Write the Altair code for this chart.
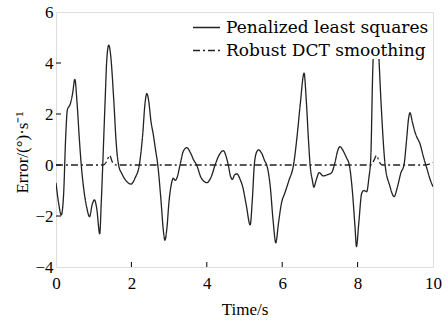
import altair as alt
import pandas as pd

# Penalized least squares (solid)
pls_t = [0.00, 0.07, 0.14, 0.20, 0.26, 0.30, 0.38, 0.44, 0.50, 0.56, 0.62, 0.67, 0.75, 0.82, 0.89,
         0.96, 1.02, 1.08, 1.16, 1.20, 1.24, 1.30, 1.35, 1.40, 1.45, 1.53, 1.60, 1.66, 1.75, 1.85,
         1.99, 2.10, 2.21, 2.30, 2.36, 2.41, 2.46, 2.52, 2.58, 2.64, 2.70, 2.78, 2.85, 2.89, 2.94,
         3.00, 3.06, 3.11, 3.16, 3.21, 3.29, 3.38, 3.47, 3.56, 3.65, 3.73, 3.85, 4.00, 4.12, 4.22,
         4.33, 4.44, 4.52, 4.57, 4.63, 4.68, 4.74, 4.80, 4.88, 4.96, 5.05, 5.15, 5.21, 5.26, 5.32,
         5.37, 5.46, 5.54, 5.59, 5.68, 5.76, 5.83, 5.90, 5.98, 6.07, 6.18, 6.30, 6.40, 6.48, 6.58,
         6.64, 6.70, 6.74, 6.80, 6.84, 6.90, 6.98, 7.09, 7.20, 7.31, 7.40, 7.47, 7.53, 7.60, 7.70,
         7.78, 7.86, 7.93, 7.97, 8.03, 8.11, 8.17, 8.24, 8.30, 8.35, 8.40, 8.45, 8.50, 8.55, 8.62,
         8.73, 8.85, 8.97, 9.05, 9.15, 9.23, 9.30, 9.35, 9.39, 9.45, 9.52, 9.57, 9.65, 9.75, 9.85,
         9.92, 10.00]
pls_v = [-0.70, -1.50, -1.96, -1.20, 1.20, 2.15, 2.40, 2.80, 3.36, 2.40, 1.00, 0.00, -1.10, -1.70, -2.03,
         -1.55, -1.37, -1.70, -2.70, -1.50, 0.00, 2.40, 4.20, 4.70, 4.30, 2.60, 0.80, 0.00, -0.35, -0.60,
         -0.75, -0.50, 0.00, 1.20, 2.40, 2.80, 2.50, 1.70, 1.20, 0.60, 0.00, -1.30, -2.60, -2.95, -2.50,
         -1.40, -0.75, -0.52, -0.60, -0.50, 0.00, 0.55, 0.68, 0.50, 0.20, 0.00, -0.50, -0.69, -0.45, 0.00,
         0.40, 0.56, 0.30, 0.00, -0.45, -0.56, -0.38, -0.35, -0.55, -0.90, -1.60, -2.35, -1.30, 0.00, 0.50,
         0.59, 0.45, 0.15, 0.00, -0.80, -2.20, -3.05, -2.30, -1.50, -1.10, -0.60, 0.00, 1.20, 2.40, 3.60,
         2.50, 0.90, 0.00, -0.60, -0.87, -0.60, -0.30, -0.43, -0.38, -0.30, 0.10, 0.55, 0.72, 0.60, 0.30,
         0.00, -1.00, -2.40, -3.20, -2.30, -1.10, -1.00, -1.05, -0.50, 0.30, 3.60, 5.30, 5.50, 4.60, 2.50,
         0.00, -0.80, -1.24, -0.90, -0.30, 0.00, 1.00, 1.80, 2.05, 1.70, 1.30, 1.10, 0.85, 0.30, -0.20,
         -0.55, -0.85]

# Robust DCT smoothing (dash-dot)
dct_t = [0.00, 1.25, 1.35, 1.42, 1.50, 1.60, 8.35, 8.44, 8.50, 8.58, 8.66, 9.80, 10.00]
dct_v = [0.00, 0.00, 0.15, 0.38, 0.10, 0.00, 0.00, 0.20, 0.38, 0.10, 0.00, 0.00, 0.10]

series_names = ["Penalized least squares", "Robust DCT smoothing"]
x_ticks = [0, 2, 4, 6, 8, 10]
y_ticks = [-4, -2, 0, 2, 4, 6]
x_inner_ticks = [2, 4, 6, 8]
y_inner_ticks = [-2, 0, 2, 4]

rows = []
for t, v in zip(pls_t, pls_v):
    rows.append({"t": t, "v": v, "series": series_names[0]})
for t, v in zip(dct_t, dct_v):
    rows.append({"t": t, "v": v, "series": series_names[1]})
df = pd.DataFrame(rows)

FONT = "Liberation Serif"
LEGEND_FONT = "DejaVu Serif"
xscale = alt.Scale(domain=[0, 10], nice=False, zero=False)
yscale = alt.Scale(domain=[-4, 6], nice=False, zero=False)

lines = alt.Chart(df).mark_line(color="#222222", strokeWidth=1.3, interpolate="monotone", clip=True).encode(
    x=alt.X("t:Q", scale=xscale,
            axis=alt.Axis(values=x_ticks, title="Time/s", domain=False, ticks=False, grid=False,
                          labelFont=FONT, labelFontSize=17, labelColor="black", labelPadding=8,
                          titleFont=FONT, titleFontSize=17, titleFontWeight="normal", titleColor="black",
                          titlePadding=10, labelFlush=False)),
    y=alt.Y("v:Q", scale=yscale,
            axis=alt.Axis(values=y_ticks, title="Error/(°)·s⁻¹", domain=False, ticks=False, grid=False,
                          labelFont=FONT, labelFontSize=17, labelColor="black", labelPadding=3,
                          titleFont=FONT, titleFontSize=17, titleFontWeight="normal", titleColor="black",
                          titleX=-34, titleY=140, titleAlign="center", titleBaseline="middle",
                          labelFlush=False)),
    strokeDash=alt.StrokeDash("series:N",
                              scale=alt.Scale(domain=series_names, range=[[1, 0], [7, 3, 2, 3]]),
                              legend=alt.Legend(title=None, orient="none", legendX=136, legendY=1,
                                                symbolType="stroke", symbolSize=729, symbolStrokeWidth=1.3,
                                                symbolStrokeColor="#222222",
                                                labelFont=LEGEND_FONT, labelFontSize=17, labelColor="black",
                                                labelOffset=5, labelLimit=0, rowPadding=-7, padding=0,
                                                fillColor="white")),
    detail="series:N",
)

xt = pd.DataFrame({"t": x_inner_ticks})
xtick_rules = alt.Chart(xt).mark_rule(color="black", strokeWidth=1).encode(
    x=alt.X("t:Q", scale=xscale),
    y=alt.value(255),
    y2=alt.value(250),
)
yt = pd.DataFrame({"v": y_inner_ticks})
ytick_rules = alt.Chart(yt).mark_rule(color="black", strokeWidth=1).encode(
    y=alt.Y("v:Q", scale=yscale),
    x=alt.value(0),
    x2=alt.value(5),
)

chart = alt.layer(lines, xtick_rules, ytick_rules).properties(
    width=377, height=255,
    autosize=alt.AutoSizeParams(type="none"),
    padding={"left": 56, "top": 12, "right": 14, "bottom": 53},
).configure_view(stroke="black", strokeWidth=1.3).configure(background="white")

chart.save("out.html", embed_options={"renderer": "svg", "actions": False})
